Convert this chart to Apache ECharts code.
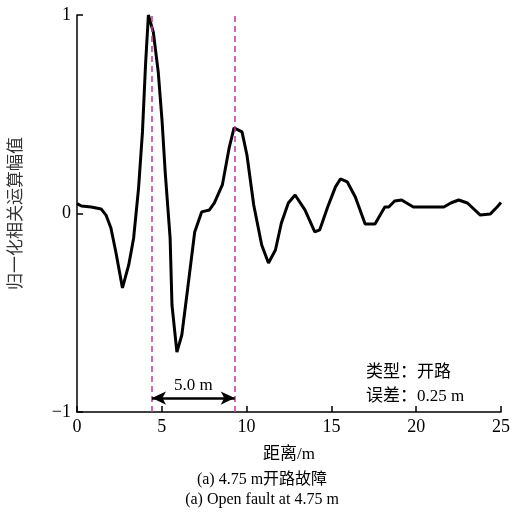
<!DOCTYPE html>
<html>
<head>
<meta charset="utf-8">
<script src="https://cdn.jsdelivr.net/npm/echarts@6/dist/echarts.min.js"></script>
<style>
  html, body { margin: 0; padding: 0; background: #fff; }
  #chart { width: 524px; height: 512px; }
</style>
</head>
<body>
<div id="chart"></div>
<script>
// distance along the cable (m) and normalised correlation amplitude
var distance = [0, 0.26, 0.84, 1.42, 1.71, 2.0, 2.29, 2.68, 3.05, 3.34, 3.63, 3.86, 4.04, 4.21,
  4.5, 4.79, 5.02, 5.2, 5.49, 5.6, 5.89, 6.18, 6.53, 6.94, 7.35, 7.81, 8.1, 8.57, 8.97, 9.26,
  9.73, 10.02, 10.42, 10.89, 11.29, 11.7, 12.05, 12.46, 12.86, 13.44, 14.02, 14.31, 14.78,
  15.24, 15.53, 15.94, 16.41, 16.99, 17.57, 18.15, 18.38, 18.73, 19.14, 19.83, 21.63, 22.04,
  22.5, 23.02, 23.78, 24.36, 24.77, 25];
var amplitude = [0.05, 0.038, 0.033, 0.023, -0.008, -0.073, -0.194, -0.375, -0.259, -0.123, 0.128,
  0.411, 0.748, 1.0, 0.914, 0.713, 0.461, 0.209, -0.123, -0.461, -0.698, -0.612, -0.375, -0.093,
  0.008, 0.018, 0.053, 0.144, 0.33, 0.431, 0.411, 0.295, 0.043, -0.159, -0.249, -0.184, -0.048,
  0.053, 0.093, 0.018, -0.093, -0.083, 0.033, 0.134, 0.174, 0.159, 0.083, -0.053, -0.053, 0.033,
  0.033, 0.063, 0.068, 0.033, 0.033, 0.053, 0.068, 0.053, -0.008, -0.003, 0.033, 0.055];
var xTicks = [0, 5, 10, 15, 20, 25];
var yTicks = [-1, 0, 1];
var markers = [4.42, 9.3];          // dashed reference lines
var spanLabel = "5.0 m";
var spanY = -0.93;

var serif = "'Liberation Serif', 'Noto Sans CJK SC', serif";
var dom = document.getElementById("chart");
var myChart = echarts.init(dom);

var points = distance.map(function(d, i) { return [d, amplitude[i]]; });

var option = {
  backgroundColor: "#ffffff",
  animation: false,
  grid: { left: 70, right: 23, top: 15, bottom: 100 },
  xAxis: {
    type: "value",
    min: xTicks[0],
    max: xTicks[xTicks.length - 1],
    interval: 5,
    name: "距离/m",
    nameLocation: "middle",
    nameGap: 34,
    nameTextStyle: { fontFamily: serif, fontSize: 17, color: "#000" },
    axisLine: { onZero: false, lineStyle: { color: "#000", width: 1.5 } },
    axisTick: { inside: true, length: 6, lineStyle: { color: "#000", width: 1.5 } },
    axisLabel: { fontFamily: serif, fontSize: 18, color: "#000", margin: 6 },
    splitLine: { show: false }
  },
  yAxis: {
    type: "value",
    min: yTicks[0],
    max: yTicks[yTicks.length - 1],
    interval: 1,
    name: "归一化相关运算幅值",
    nameLocation: "middle",
    nameGap: 52,
    nameTextStyle: { fontFamily: serif, fontSize: 17, color: "#333" },
    axisLine: { onZero: false, lineStyle: { color: "#000", width: 1.5 } },
    axisTick: { inside: true, length: 6, lineStyle: { color: "#000", width: 1.5 } },
    axisLabel: {
      fontFamily: serif, fontSize: 18, color: "#000", margin: 6,
      formatter: function(v) { return v < 0 ? "\u2212" + Math.abs(v) : String(v); }
    },
    splitLine: { show: false }
  },
  series: [
    {
      type: "line",
      data: points,
      showSymbol: false,
      lineStyle: { color: "#000", width: 3 },
      z: 3
    },
    {
      type: "line",
      data: [],
      markLine: {
        silent: true,
        symbol: ["none", "none"],
        label: { show: false },
        lineStyle: { color: "#c0399b", type: [6, 4], width: 1.5 },
        data: markers.map(function(m) { return { xAxis: m }; })
      }
    },
    {
      type: "line",
      data: [],
      markLine: {
        silent: true,
        symbol: ["arrow", "arrow"],
        symbolSize: [10, 14],
        lineStyle: { color: "#000", type: "solid", width: 2.5 },
        label: {
          show: true,
          position: "middle",
          formatter: spanLabel,
          fontFamily: serif,
          fontSize: 17,
          color: "#000",
          distance: 4
        },
        data: [[{ coord: [markers[0], spanY] }, { coord: [markers[1], spanY] }]]
      }
    }
  ],
  graphic: [
    {
      type: "text", left: 366, top: 364,
      style: { text: "类型：开路", font: "17px " + serif, fill: "#000" }
    },
    {
      type: "text", left: 366, top: 388,
      style: { text: "误差：0.25 m", font: "17px " + serif, fill: "#000" }
    },
    {
      type: "text", left: "center", top: 472,
      style: { text: "(a) 4.75 m开路故障", font: "16px " + serif, fill: "#000", align: "center" }
    },
    {
      type: "text", left: "center", top: 492,
      style: { text: "(a) Open fault at 4.75 m", font: "16px " + serif, fill: "#000", align: "center" }
    }
  ]
};

myChart.setOption(option, true);
</script>
</body>
</html>
